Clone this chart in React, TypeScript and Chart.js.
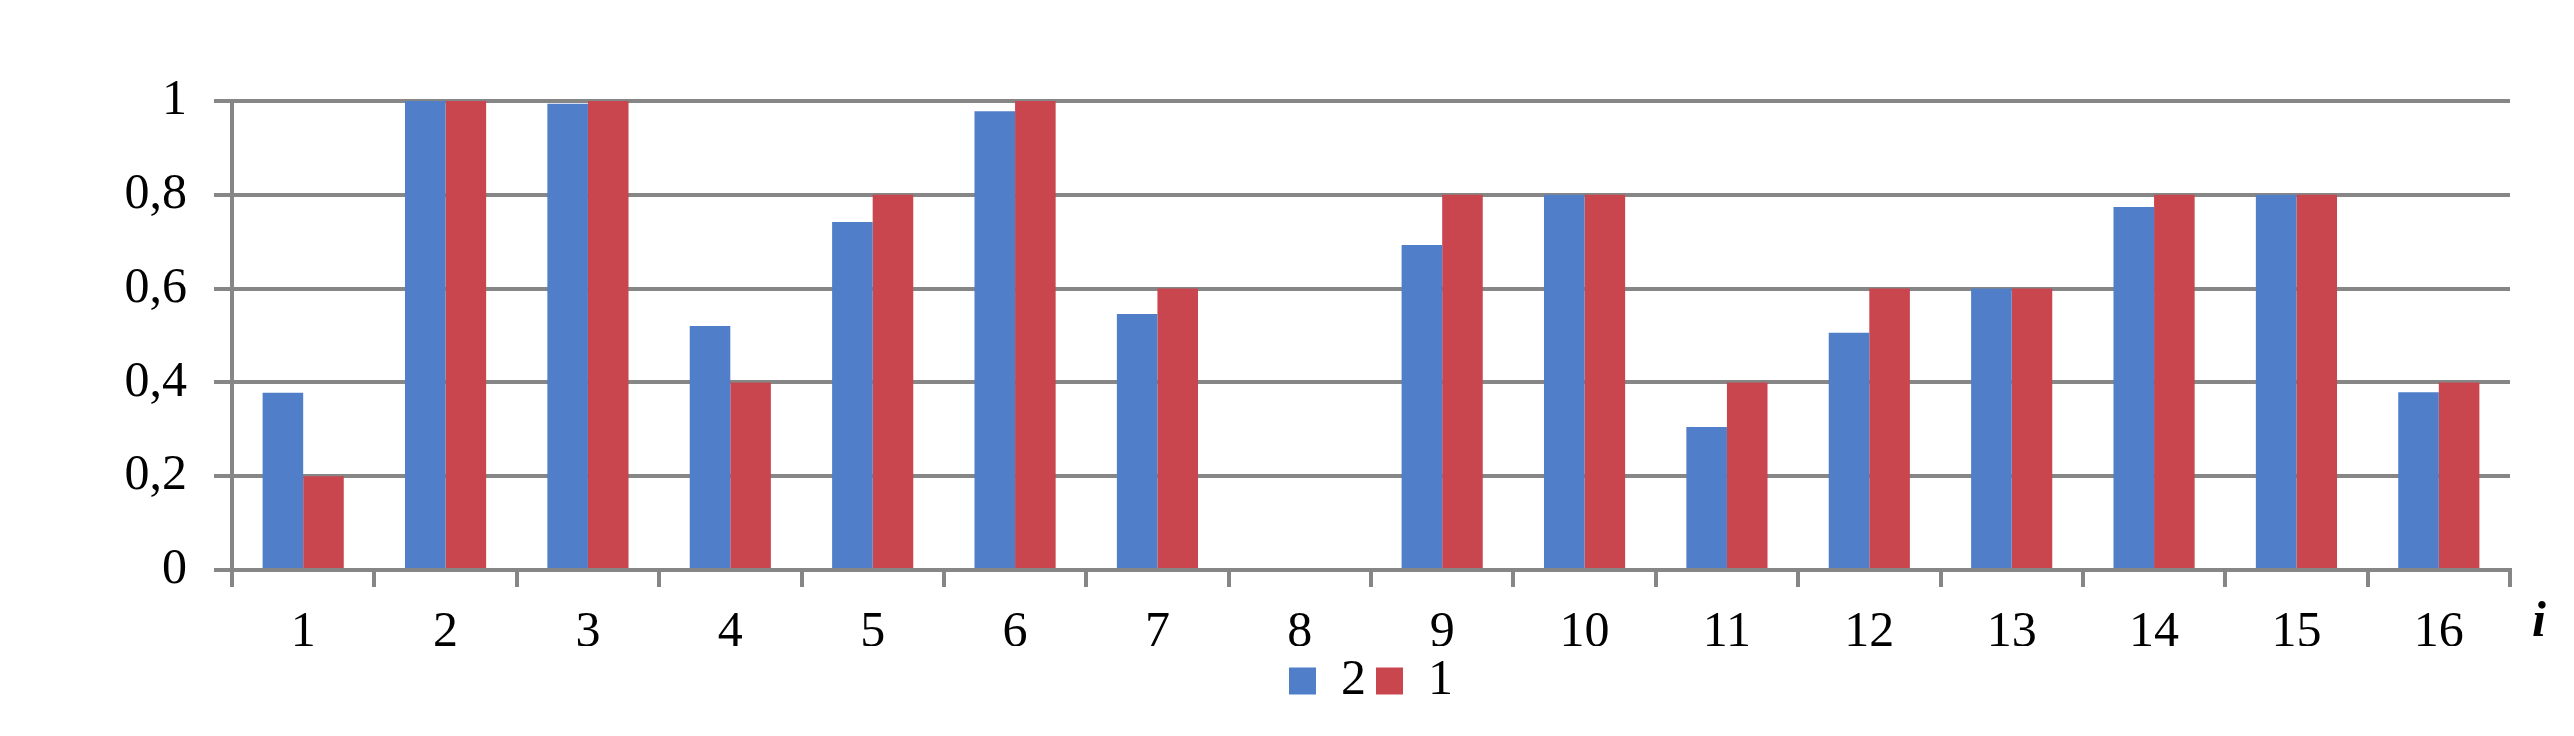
import React, { useEffect, useRef } from "react";
import { Chart, registerables } from "chart.js";

Chart.register(...registerables);

const categories = ["1", "2", "3", "4", "5", "6", "7", "8", "9", "10", "11", "12", "13", "14", "15", "16"];
const series2 = [0.378, 1, 0.994, 0.52, 0.742, 0.978, 0.546, 0, 0.693, 0.8, 0.305, 0.506, 0.6, 0.774, 0.8, 0.379];
const series1 = [0.2, 1, 1, 0.4, 0.8, 1, 0.6, 0, 0.8, 0.8, 0.4, 0.6, 0.6, 0.8, 0.8, 0.4];
const seriesLabels = ["2", "1"];
const yTickLabels = ["0", "0,2", "0,4", "0,6", "0,8", "1"];
const xTitle = "i";

const BLUE = "#507EC8";
const RED = "#C9464E";
const GRID = "#868686";
const FONT = "'Liberation Serif', 'Times New Roman', serif";
const FS = 50;

const xTitlePlugin = {
  id: "xTitleI",
  afterDraw(chart: any) {
    const { ctx, chartArea } = chart;
    ctx.save();
    ctx.font = `italic bold ${FS}px ${FONT}`;
    ctx.fillStyle = "#000";
    ctx.textAlign = "left";
    ctx.textBaseline = "alphabetic";
    ctx.fillText(xTitle, chartArea.right + 22, chartArea.bottom + 66);
    ctx.restore();
  },
};

export default function App() {
  const ref = useRef<HTMLCanvasElement | null>(null);

  useEffect(() => {
    if (!ref.current) return;
    const chart = new Chart(ref.current, {
      type: "bar",
      data: {
        labels: categories,
        datasets: [
          { label: seriesLabels[0], data: series2, backgroundColor: BLUE, borderWidth: 0 },
          { label: seriesLabels[1], data: series1, backgroundColor: RED, borderWidth: 0 },
        ],
      },
      options: {
        responsive: false,
        animation: false,
        devicePixelRatio: 1,
        layout: { padding: { top: 101, right: 64, bottom: 20, left: 0 } },
        datasets: { bar: { categoryPercentage: 0.57, barPercentage: 1.0 } },
        plugins: {
          tooltip: { enabled: false },
          legend: {
            position: "bottom",
            fullSize: false,
            labels: {
              boxWidth: 27,
              boxHeight: 27,
              padding: 10,
              color: "#000",
              font: { family: FONT, size: FS },
            },
          },
        },
        scales: {
          x: {
            offset: true,
            grid: {
              offset: true,
              drawOnChartArea: false,
              drawTicks: true,
              tickLength: 17,
              lineWidth: 4,
              color: GRID,
            },
            border: { display: true, color: GRID, width: 4 },
            ticks: {
              color: "#000",
              padding: 16,
              maxRotation: 0,
              autoSkip: false,
              font: { family: FONT, size: FS },
            },
            afterFit: (scale: any) => {
              scale.height = 76;
            },
          },
          y: {
            min: 0,
            max: 1,
            ticks: {
              stepSize: 0.2,
              color: "#000",
              padding: 27,
              font: { family: FONT, size: FS },
              callback: (_v: any, i: number) => yTickLabels[i],
            },
            grid: {
              drawTicks: true,
              tickLength: 18,
              lineWidth: 4,
              color: GRID,
            },
            border: { display: true, color: GRID, width: 4 },
            afterFit: (scale: any) => {
              scale.width = 232;
            },
          },
        },
      },
      plugins: [xTitlePlugin],
    });
    return () => chart.destroy();
  }, []);

  return (
    <div style={{ position: "absolute", left: 0, top: 0, width: 2574, height: 736, background: "#fff" }}>
      <canvas ref={ref} width={2574} height={736} style={{ display: "block" }} />
    </div>
  );
}
